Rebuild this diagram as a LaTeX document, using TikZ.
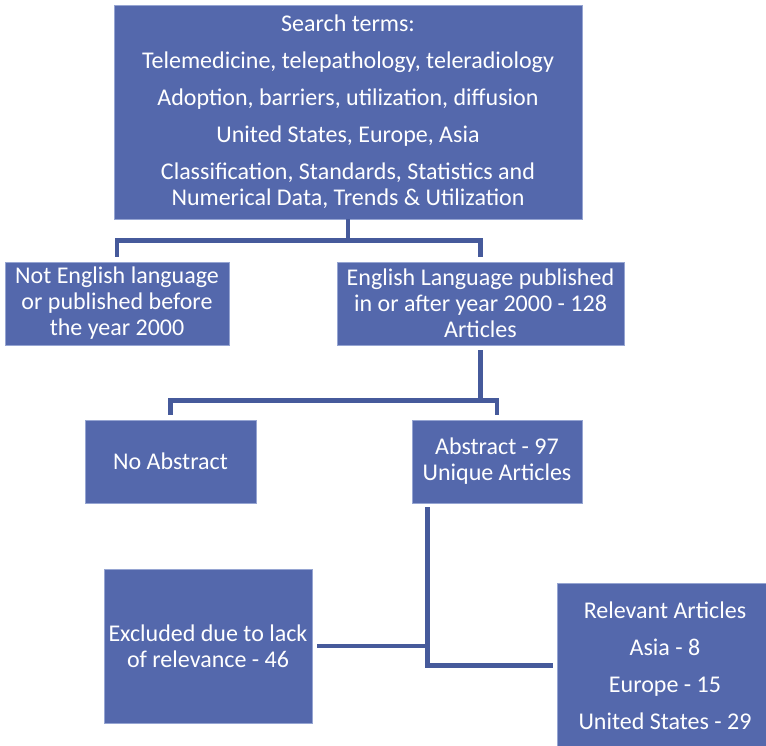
\documentclass[tikz,border=0pt]{standalone}
\usepackage{fontspec}
\setmainfont{Carlito}
\definecolor{boxblue}{RGB}{84,104,172}
\definecolor{lineblue}{RGB}{70,90,155}
\definecolor{edgeblue}{RGB}{150,165,210}

\begin{document}
\begin{tikzpicture}[x=1pt, y=-1pt,
    box/.style={draw=edgeblue, line width=0.8pt, fill=boxblue, text=white,
      align=center, inner sep=0pt, font=\fontsize{24}{26}\selectfont},
    conn/.style={draw=lineblue, line width=4.5pt}]
  \useasboundingbox (0,0) rectangle (766,745);

  \node[box, minimum width=468pt, minimum height=214pt] (terms) at (348,112)
    {Search terms:\\[11pt]
     Telemedicine, telepathology, teleradiology\\[11pt]
     Adoption, barriers, utilization, diffusion\\[11pt]
     United States, Europe, Asia\\[11pt]
     Classification, Standards, Statistics and\\
     Numerical Data, Trends \& Utilization};
  \node[box, minimum width=224pt, minimum height=83pt] (noteng) at (117,303.5)
    {Not English language\\or published before\\the year 2000};
  \node[box, minimum width=287pt, minimum height=83pt] (english) at (480.5,303.5)
    {English Language published\\in or after year 2000 - 128\\Articles};
  \node[box, minimum width=171pt, minimum height=83pt] (noabs) at (170.5,461.5)
    {No Abstract};
  \node[box, minimum width=170pt, minimum height=83pt] (abstract) at (497,461.5)
    {Abstract - 97\\Unique Articles};
  \node[box, minimum width=208pt, minimum height=154pt] (excluded) at (208,646)
    {Excluded due to lack\\of relevance - 46};
  \node[box, minimum width=216pt, minimum height=165pt,
        font=\fontsize{24}{37}\selectfont] (relevant) at (665,665.5)
    {Relevant Articles\\Asia - 8\\Europe - 15\\United States - 29};

  % language split
  \draw[conn] (terms.south) -- ++(0,21) coordinate (split1);
  \draw[conn, shorten >=5pt] (split1) -| (noteng.north);
  \draw[conn, shorten >=5pt] (split1) -| (english.north);

  % abstract split
  \draw[conn, shorten <=5pt] (english.south) -- ++(0,55) coordinate (split2);
  \draw[conn, shorten >=5pt] (split2) -| (noabs.north);
  \draw[conn, shorten >=5pt] (split2) -| (abstract.north);

  % relevance
  \coordinate (split3) at ([xshift=16pt]abstract.south west);
  \draw[conn, shorten <=4pt, shorten >=4pt] (split3) |- (relevant.west);
  \draw[conn, shorten <=5pt] (excluded.east) -- (excluded.east -| split3);
\end{tikzpicture}
\end{document}
